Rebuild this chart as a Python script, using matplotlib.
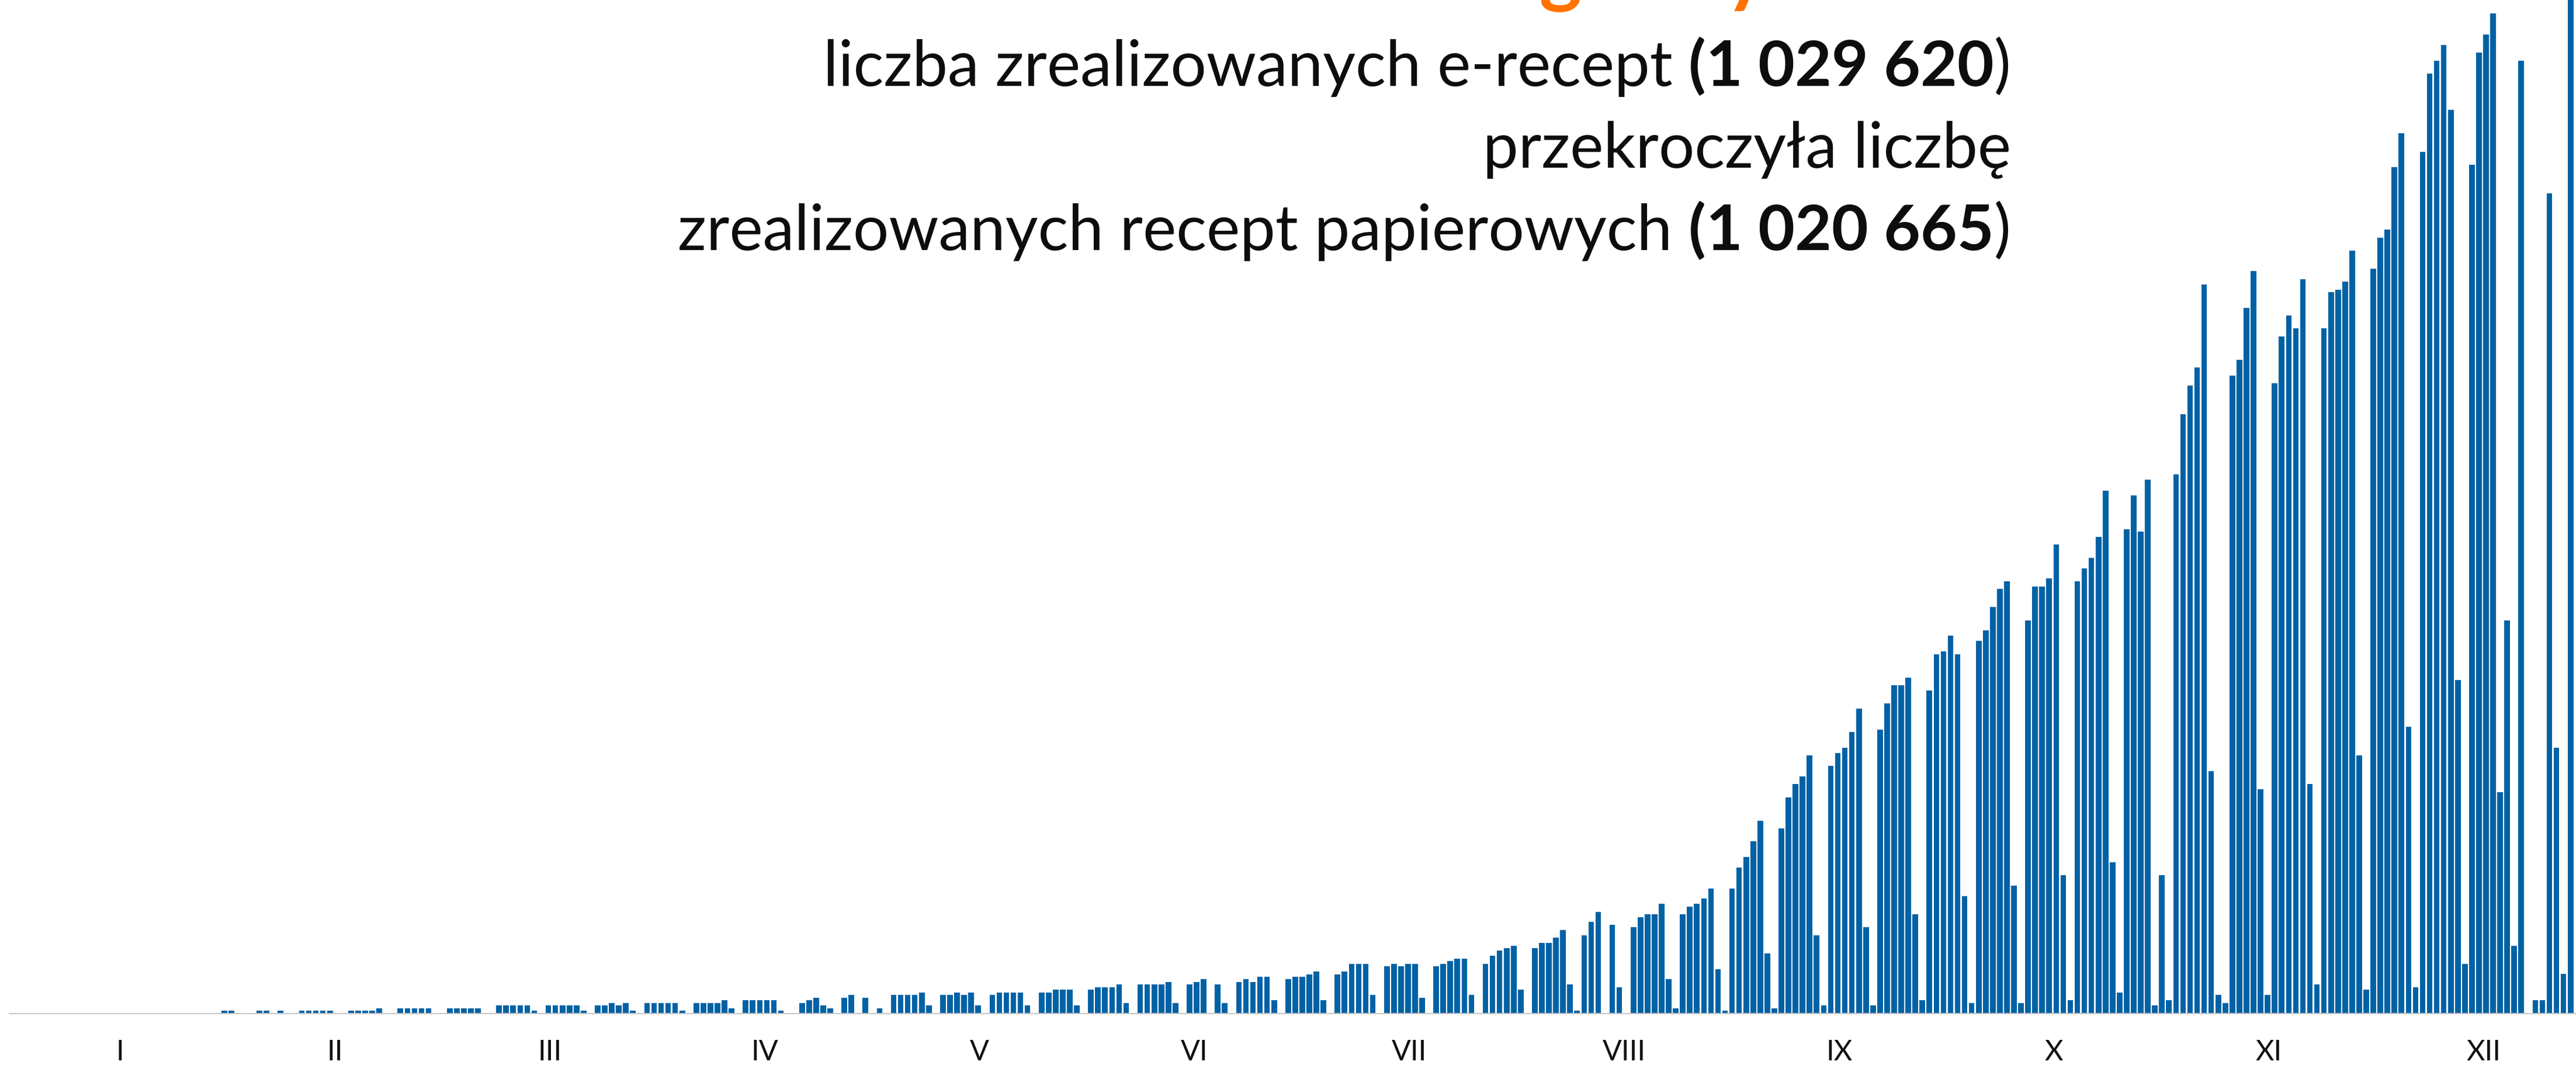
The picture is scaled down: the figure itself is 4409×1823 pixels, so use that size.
import numpy as np
import matplotlib.pyplot as plt

plt.rcParams['font.family'] = ['Lato', 'DejaVu Sans']

# daily number of e-prescriptions filled in 2019, thousands
jan = [0, 0, 0, 0, 0, 0, 0, 0, 0, 0, 0, 0, 0, 0, 0, 0, 0, 0, 0, 0,
       0, 0, 0, 0, 0, 0, 0, 0, 0, 0, 2.7]
feb = [2.7, 0, 0, 0, 2.7, 2.7, 0, 2.7, 0, 0, 2.7, 2.7, 2.7, 2.7,
       2.7, 0, 0, 2.7, 2.7, 2.7, 2.7, 4.8, 0, 0, 4.8, 4.8, 4.8, 4.8]
mar = [4.8, 0, 0, 4.8, 4.8, 4.8, 4.8, 4.8, 0, 0, 7.5, 7.5, 7.5, 7.5,
       7.5, 2.7, 0, 7.5, 7.5, 7.5, 7.5, 7.5, 2.7, 0, 7.5, 7.5, 9.6, 7.5,
       9.6, 2.7, 0]
apr = [9.6, 9.6, 9.6, 9.6, 9.6, 2.7, 0, 9.6, 9.6, 9.6, 9.6, 12.3, 4.8, 0,
       12.3, 12.3, 12.3, 12.3, 12.3, 2.7, 0, 0, 9.6, 12.3, 14.4, 7.5, 4.8, 0,
       14.4, 17.1]
may = [0, 14.4, 0, 4.8, 0, 17.1, 17.1, 17.1, 17.1, 19.2, 7.5, 0,
       17.1, 17.1, 19.2, 17.1, 19.2, 7.5, 0, 17.1, 19.2, 19.2, 19.2, 19.2,
       7.5, 0, 19.2, 19.2, 21.9, 21.9, 21.9]
jun = [7.5, 0, 21.9, 24, 24, 24, 26.7, 9.6, 0, 26.7, 26.7, 26.7, 26.7,
       28.8, 9.6, 0, 26.7, 28.8, 31.4, 0, 26.7, 9.6, 0, 28.8, 31.4, 28.8,
       33.6, 33.6, 12.3, 0]
jul = [31.4, 33.6, 33.6, 35.7, 38.4, 12.3, 0, 35.7, 38.4, 45.3, 45.3,
       45.3, 17.1, 0, 43.2, 45.3, 43.2, 45.3, 45.3, 14.4, 0, 43.2, 45.3,
       48, 50.1, 50.1, 17.1, 0, 45.3, 52.8, 57.6]
aug = [59.7, 61.8, 21.9, 0, 59.7, 64.5, 64.5, 69.3, 76.2, 26.7, 2.7,
       71.4, 83.7, 92.7, 0, 81, 24, 0, 78.9, 87.9, 90.6, 90.6, 100.2, 31.4,
       4.8, 90.6, 97.5, 100.2, 105, 114.1, 40.5]
sep = [2.7, 114.1, 133.3, 142.8, 157.2, 175.9, 54.9, 4.8, 169, 197.2,
       209.5, 216.4, 235.6, 71.4, 7.5, 226, 237.7, 242.5, 256.9, 278.2,
       78.9, 7.5, 259, 283, 299.5, 299.5, 306.5, 90.6, 12.3, 294.7]
oct = [327.8, 330.5, 344.9, 327.8, 107.1, 9.6, 340.1, 349.6, 371, 387.5,
       394.4, 116.7, 9.6, 358.7, 389.6, 389.6, 397.1, 428, 126.3, 12.3,
       394.4, 406.1, 415.7, 434.9, 477, 138, 19.2, 441.9, 472.8, 439.7,
       487.2]
nov = [7.5, 126.3, 12.3, 492, 546.9, 573, 589.5, 665.2, 221.2, 17.1, 9.6,
       582, 596.4, 643.9, 677.4, 204.7, 17.1, 575.1, 617.7, 636.9, 625.2,
       670, 209.5, 26.7, 625.2, 658.3, 660.4, 667.8, 696.1, 235.6]
dec = [21.9, 679.6, 707.8, 715.3, 772.3, 803.2, 261.7, 24, 786.2, 857.6,
       869.3, 883.7, 824.6, 304.3, 45.3, 774.4, 876.8, 893.3, 912.5, 202,
       358.7, 61.8, 869.3, 0, 12.3, 12.3, 748.3, 242.5, 36.2, 1029.6]

months = ['I', 'II', 'III', 'IV', 'V', 'VI', 'VII', 'VIII', 'IX', 'X', 'XI', 'XII']

line1 = [('liczba zrealizowanych e-recept', 'normal'), ('(1 029 620', 'bold'), (')', 'normal')]
line2 = [('przekroczyła liczbę', 'normal')]
line3 = [('zrealizowanych recept papierowych', 'normal'), ('(1 020 665', 'bold'), (')', 'normal')]
title_prefix = 'Dzień ma'
title = 'Dzień magiczny'

W, H = 4409, 1823
values = np.array(jan + feb + mar + apr + may + jun + jul + aug + sep + oct + nov + dec)
days = np.arange(len(values))

fig = plt.figure(figsize=(W / 100, H / 100), dpi=100)
ax = fig.add_axes([16 / W, 88 / H, 1 - 16 / W, 1735 / H])
ax.bar(days, values, width=0.8, color='#0062A5')
ax.set_xlim(-0.5, 363.77)
ax.set_ylim(0, 925)
for side in ['top', 'right', 'left']:
    ax.spines[side].set_visible(False)
ax.spines['bottom'].set_color('#c8c8c8')
ax.spines['bottom'].set_linewidth(1.5)
ax.set_yticks([])
ax.set_xticks(15.2 + 30.5 * np.arange(12))
ax.set_xticklabels(months, fontsize=35, color='#111111')
ax.tick_params(axis='x', length=0, pad=32)

renderer = fig.canvas.get_renderer()


def width_of(s, **kw):
    t = fig.text(0, 0, s, **kw)
    w = t.get_window_extent(renderer).width
    t.remove()
    return w


def right_text(parts, x_px, y_px, size):
    # draws the pieces right to left, so mixed weights line up
    space = width_of('a a', fontsize=size) - width_of('aa', fontsize=size)
    x = x_px
    for i, (s, weight) in enumerate(reversed(parts)):
        if i == len(parts) - 1 and len(parts) > 1:
            x -= space
        t = fig.text(x / W, 1 - y_px / H, s, ha='right', va='baseline',
                     fontsize=size, fontweight=weight, color='#0d0d0d')
        x -= t.get_window_extent(renderer).width


size = 78
right_text(line1, 3442, 147, size)
right_text(line2, 3442, 287, size)
right_text(line3, 3442, 428, size)

# orange headline, only its descenders reach into the picture
tsize = 100
pre = width_of(title_prefix, fontsize=tsize, fontweight='bold')
fig.text((2641 - pre - 6) / W, 1 + 4 / H, title, ha='left', va='baseline',
         fontsize=tsize, fontweight='bold', color='#FF7300')

fig.savefig('out.png', dpi=100)
